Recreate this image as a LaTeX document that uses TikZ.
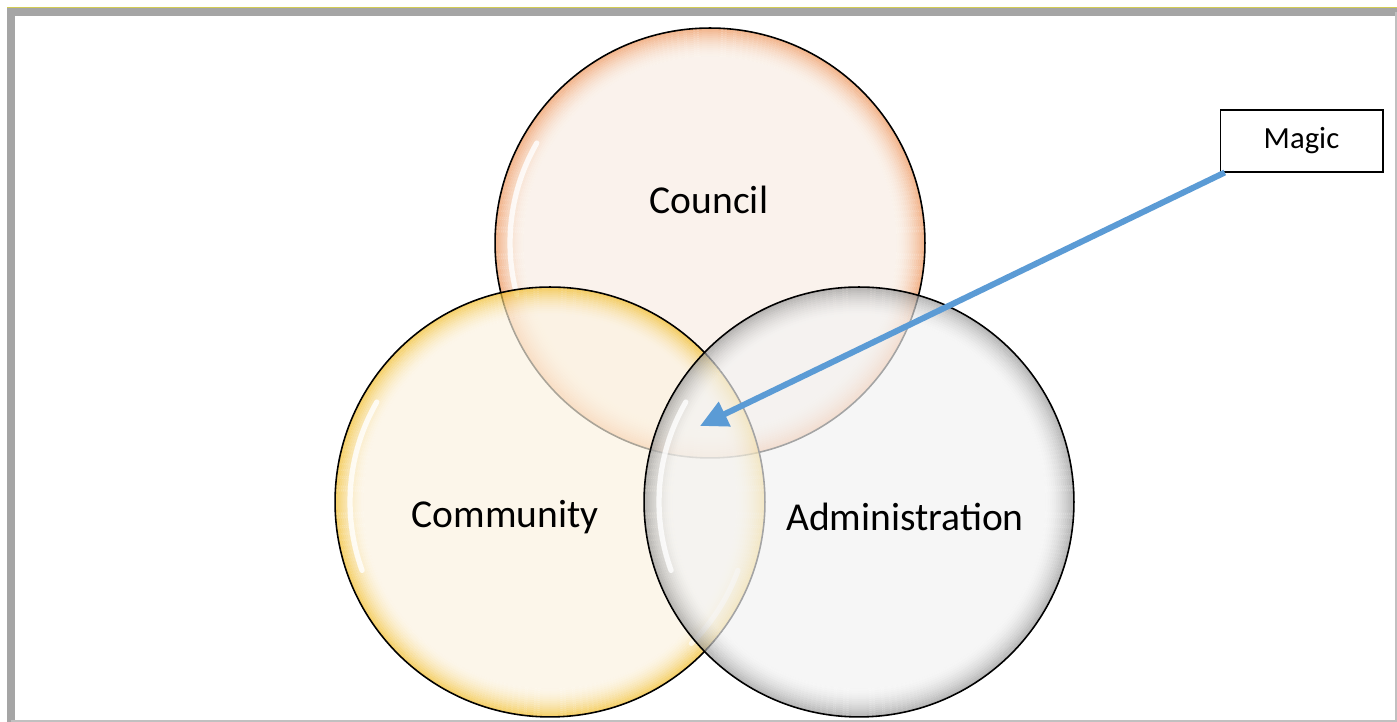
\documentclass[tikz,border=0pt]{standalone}
\usepackage{fontspec}
\setmainfont{Carlito}
\usetikzlibrary{arrows.meta}
\definecolor{peach}{HTML}{F9EDE3}
\definecolor{peachrim}{HTML}{EE955A}
\definecolor{cream}{HTML}{FCF3E1}
\definecolor{creamrim}{HTML}{F2BC28}
\definecolor{silver}{HTML}{F3F3F3}
\definecolor{silverrim}{HTML}{989898}
\definecolor{arrowblue}{HTML}{5B9BD5}
\definecolor{framegray}{HTML}{A5A5A5}
\newcommand{\bubblefill}[3]{%
  \fill[#2, fill opacity=0.68] (#1) circle (3.74cm);
  \foreach \k in {1,...,14}{
    \pgfmathsetmacro{\p}{100*((15-\k)/14)^1.7}
    \draw[#3!\p!#2, line width=0.042cm, draw opacity=0.68] (#1) circle ({4.3cm-(\k-0.5)*0.04cm});
  }
}
\tikzset{
  bubble/.style={circle, draw=black, line width=0.9pt, minimum size=8.6cm, inner sep=0pt},
  glint/.style={white, line width=3pt, opacity=0.8, line cap=round},
  ringtext/.style={font=\fontsize{22.5}{27}\selectfont},
  tagbox/.style={draw=black, line width=0.6pt, fill=white, minimum width=3.26cm, minimum height=1.24cm, font=\fontsize{17.5}{21}\selectfont},
  pointer/.style={arrowblue, line width=0.12cm, -{Triangle[length=0.55cm,width=0.52cm]}}
}
\begin{document}
\begin{tikzpicture}[x=0.02cm,y=0.02cm]
  \useasboundingbox (0,0) rectangle (1397,722);
  \fill[white] (0,0) rectangle (1397,722);
  \draw[yellow!60!gray, line width=0.5pt] (7,0) |- (1397,714.5);
  \draw[framegray, line width=0.16cm] (11,0) |- (1397,710);
  \draw[framegray!70, line width=0.04cm] (11,1.3) -- (1396,1.3) -- (1396,710);

  \coordinate (councilmid) at (710,479);
  \coordinate (communitymid) at (550,220);
  \coordinate (adminmid) at (859,220);

  \bubblefill{councilmid}{peach}{peachrim}
  \node[bubble] (council) at (councilmid) {};
  \draw[glint] ([shift={(150:4.0cm)}]council.center) arc[start angle=150, end angle=195, radius=4.0cm];
  \bubblefill{communitymid}{cream}{creamrim}
  \node[bubble] (community) at (communitymid) {};
  \draw[glint] ([shift={(150:4.0cm)}]community.center) arc[start angle=150, end angle=200, radius=4.0cm];
  \draw[glint, opacity=0.6] ([shift={(-20:4.0cm)}]community.center) arc[start angle=-20, end angle=-45, radius=4.0cm];
  \bubblefill{adminmid}{silver}{silverrim}
  \node[bubble] (admin) at (adminmid) {};
  \draw[glint] ([shift={(150:4.0cm)}]admin.center) arc[start angle=150, end angle=200, radius=4.0cm];

  \node[ringtext] (counciltext) at (709,522) {Council};
  \node[ringtext] (communitytext) at (505,205) {Community};
  \node[ringtext] (admintext) at (905,205) {Administration};

  \node[tagbox] (magic) at (1301.5,581) {Magic};
  \coordinate (sweetspot) at (700,296);
  \draw[pointer] ([xshift=3pt]magic.south west) -- (sweetspot);
\end{tikzpicture}
\end{document}
